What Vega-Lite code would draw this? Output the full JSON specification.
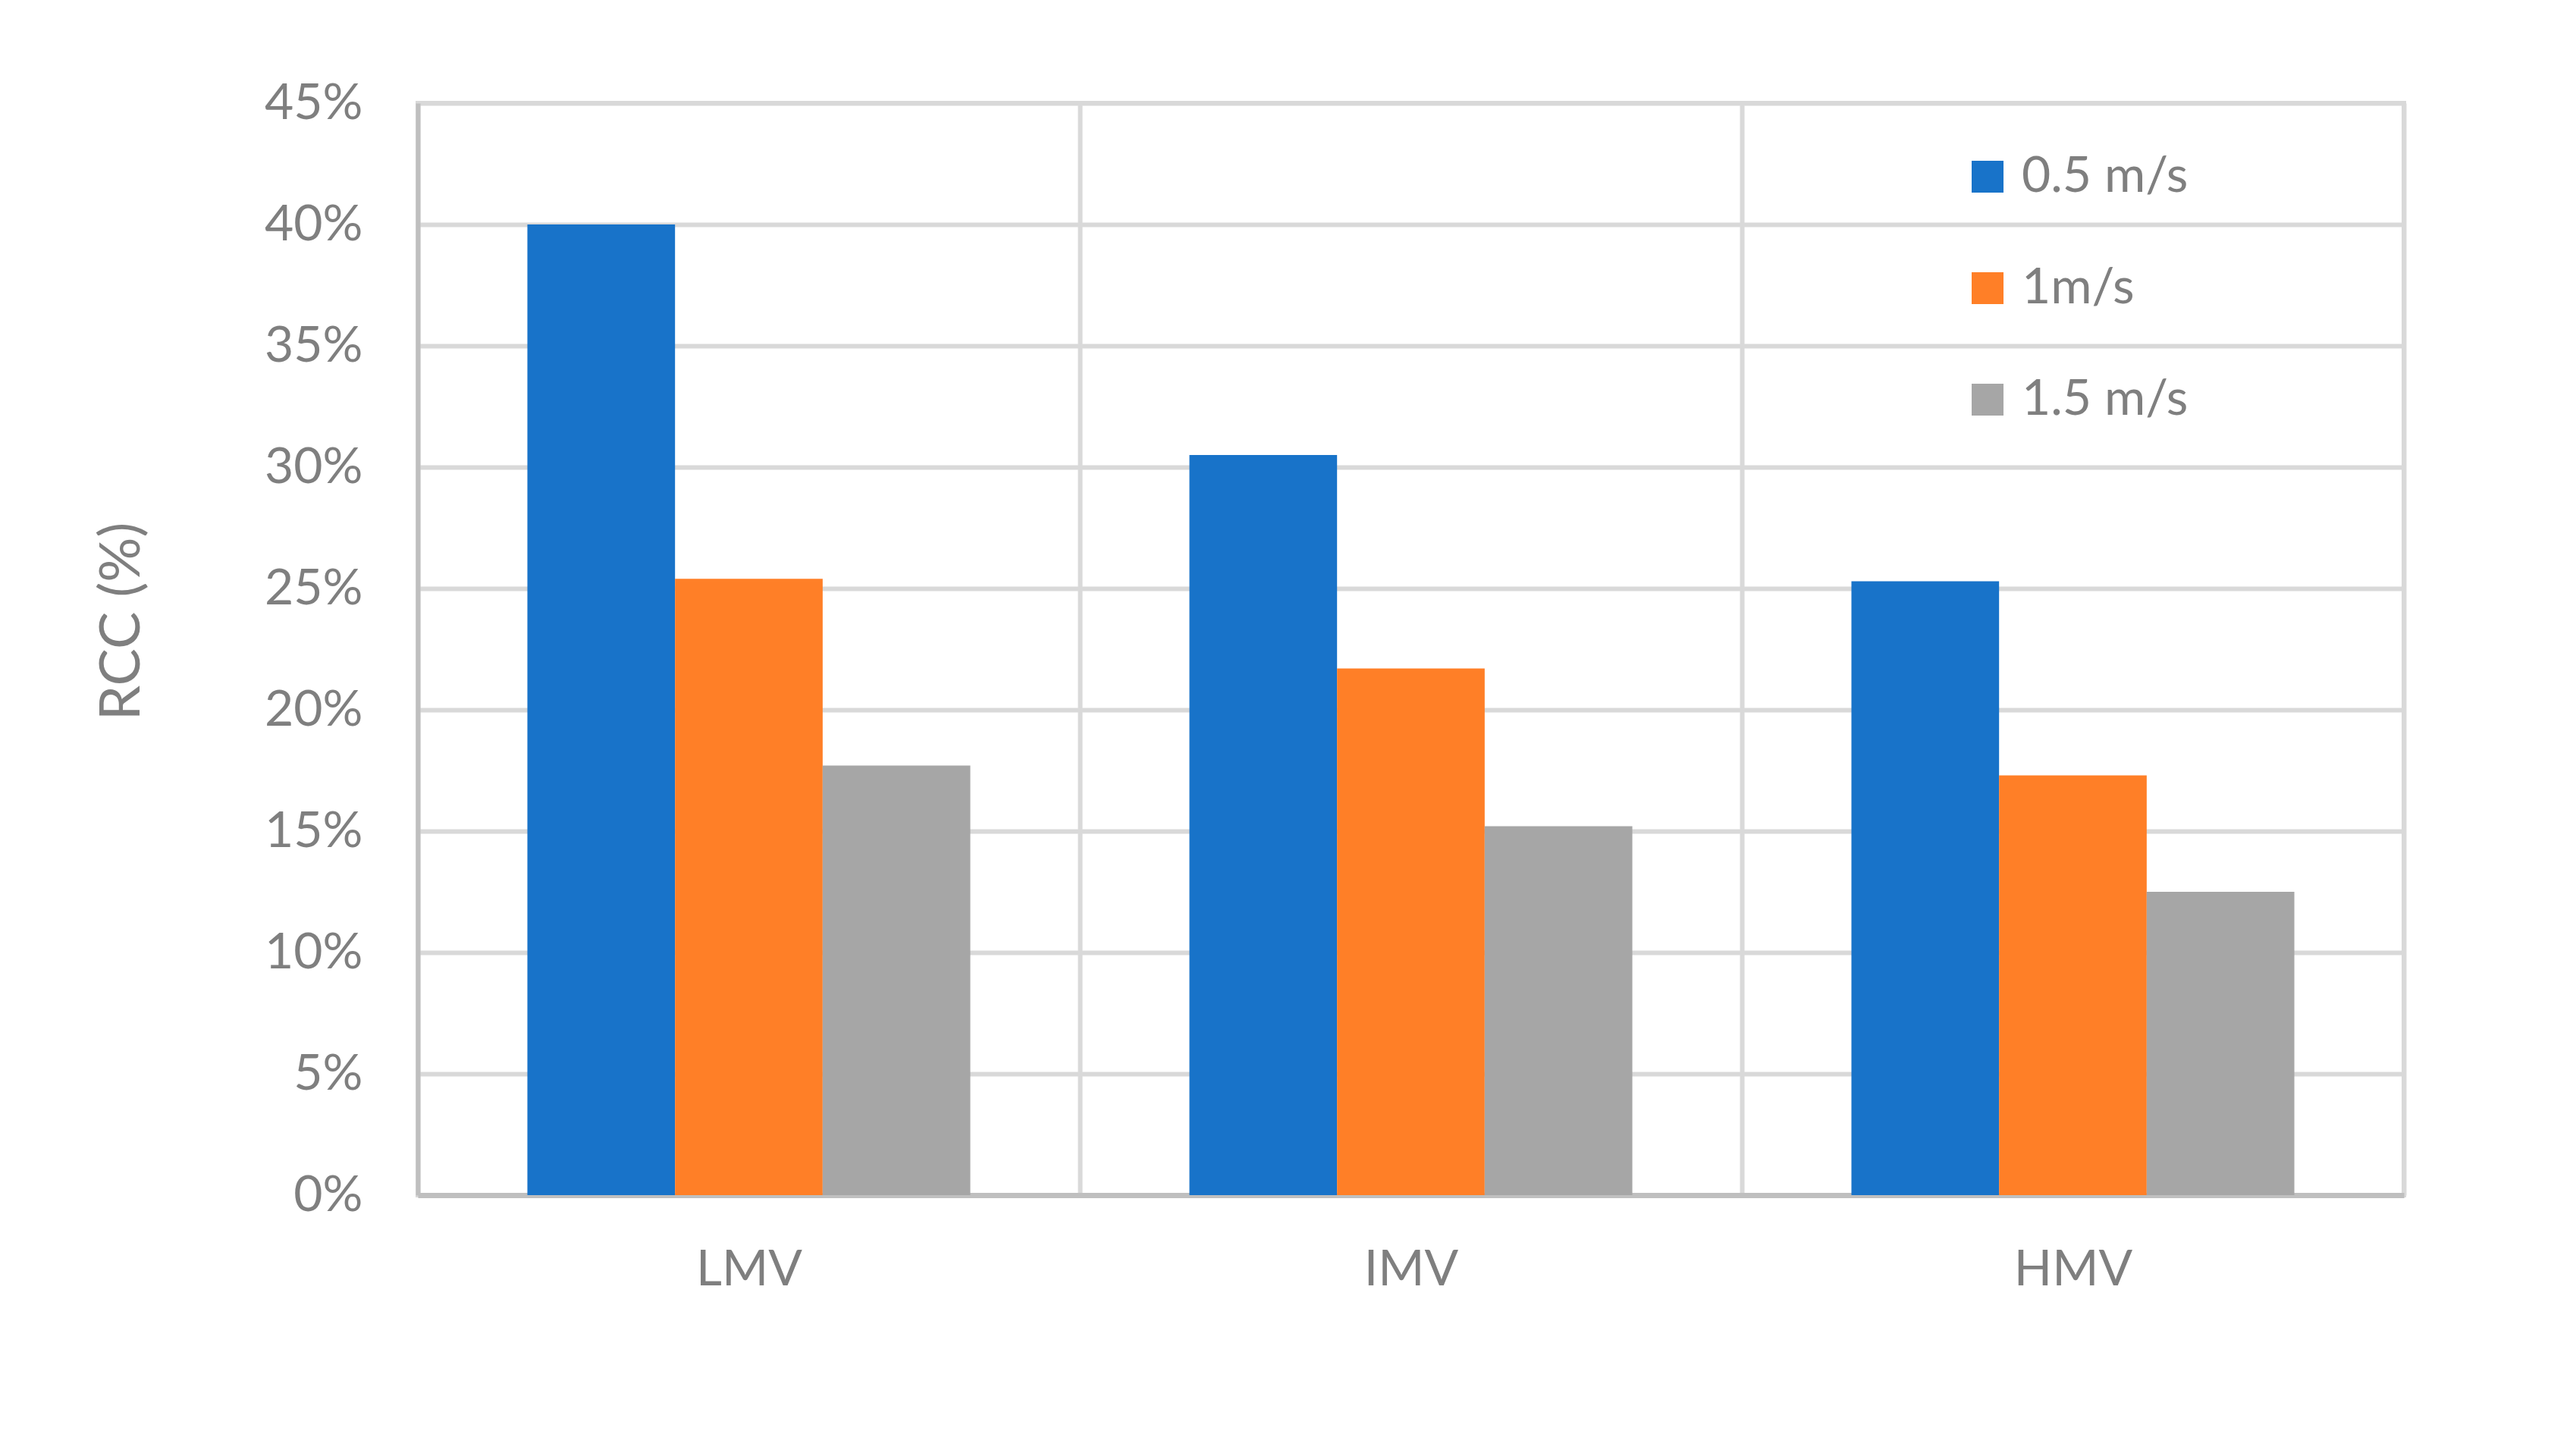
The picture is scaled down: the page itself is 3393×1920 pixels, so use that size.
{
  "$schema": "https://vega.github.io/schema/vega-lite/v6.json",
  "width": 2619,
  "height": 1440,
  "autosize": {"type": "none"},
  "padding": {"left": 551, "top": 136, "right": 223, "bottom": 344},
  "background": "white",
  "data": {
    "values": [
      {"group": "LMV", "speed": "0.5 m/s", "rcc": 40.0},
      {"group": "LMV", "speed": "1m/s", "rcc": 25.4},
      {"group": "LMV", "speed": "1.5 m/s", "rcc": 17.7},
      {"group": "IMV", "speed": "0.5 m/s", "rcc": 30.5},
      {"group": "IMV", "speed": "1m/s", "rcc": 21.7},
      {"group": "IMV", "speed": "1.5 m/s", "rcc": 15.2},
      {"group": "HMV", "speed": "0.5 m/s", "rcc": 25.3},
      {"group": "HMV", "speed": "1m/s", "rcc": 17.3},
      {"group": "HMV", "speed": "1.5 m/s", "rcc": 12.5}
    ]
  },
  "mark": {"type": "bar"},
  "encoding": {
    "x": {
      "field": "group",
      "type": "nominal",
      "sort": ["LMV", "IMV", "HMV"],
      "scale": {"paddingInner": 0, "paddingOuter": 0},
      "axis": {
        "title": null,
        "labelAngle": 0,
        "labelAlign": "center",
        "labelFont": "Lato",
        "labelFontSize": 66,
        "labelColor": "#7f7f7f",
        "labelPadding": 66,
        "ticks": false,
        "tickBand": "extent",
        "grid": true,
        "gridColor": "#d9d9d9",
        "gridWidth": 6,
        "domainColor": "#bfbfbf",
        "domainWidth": 7
      }
    },
    "xOffset": {
      "field": "speed",
      "type": "nominal",
      "sort": ["0.5 m/s", "1m/s", "1.5 m/s"],
      "scale": {"paddingInner": 0, "paddingOuter": 0.742}
    },
    "y": {
      "field": "rcc",
      "type": "quantitative",
      "scale": {"domain": [0, 45], "nice": false},
      "axis": {
        "title": "RCC (%)",
        "values": [0, 5, 10, 15, 20, 25, 30, 35, 40, 45],
        "labelExpr": "datum.value + '%'",
        "labelFont": "Lato",
        "labelFontSize": 66,
        "labelColor": "#7f7f7f",
        "labelPadding": 73,
        "ticks": false,
        "domainColor": "#bfbfbf",
        "domainWidth": 6,
        "gridColor": "#d9d9d9",
        "gridWidth": 6,
        "titleFont": "Lato",
        "titleFontSize": 74,
        "titleFontWeight": "normal",
        "titleColor": "#7f7f7f",
        "titleX": -390,
        "titleY": 683,
        "titleAngle": -90,
        "titleAlign": "center",
        "titleBaseline": "middle"
      }
    },
    "color": {
      "field": "speed",
      "type": "nominal",
      "sort": ["0.5 m/s", "1m/s", "1.5 m/s"],
      "scale": {"domain": ["0.5 m/s", "1m/s", "1.5 m/s"], "range": ["#1873C9", "#FF7F27", "#A6A6A6"]},
      "legend": {
        "title": null,
        "orient": "none",
        "legendX": 2037,
        "legendY": 64,
        "symbolType": "square",
        "symbolSize": 1764,
        "symbolStrokeWidth": 0,
        "labelFont": "Lato",
        "labelFontSize": 66,
        "labelColor": "#7f7f7f",
        "labelOffset": 12,
        "labelLimit": 0,
        "rowPadding": 81
      }
    }
  },
  "config": {
    "view": {"stroke": "#d9d9d9", "strokeWidth": 6}
  }
}
